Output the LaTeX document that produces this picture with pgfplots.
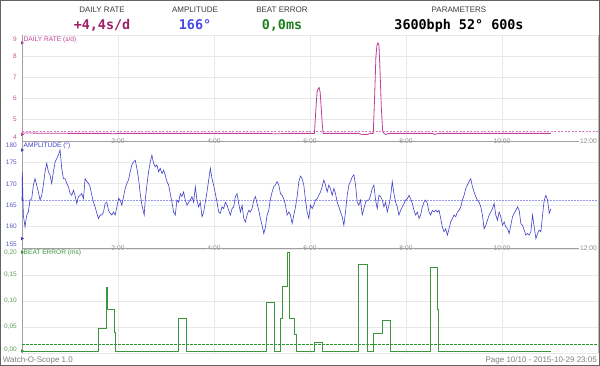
\documentclass[border=0pt]{standalone}
\usepackage{pgfplots}
\usepackage{pgfplotstable}
\pgfplotsset{compat=1.18}
\usepackage{fontspec}
\setmainfont{Liberation Sans}
\newfontfamily\valfont{DejaVu Sans Mono}
\definecolor{dr}{RGB}{192,64,152}
\definecolor{drhead}{RGB}{158,32,108}
\definecolor{drtick}{RGB}{200,80,160}
\definecolor{drmean}{RGB}{214,120,190}
\definecolor{am}{RGB}{64,64,204}
\definecolor{amhead}{RGB}{72,72,230}
\definecolor{amtick}{RGB}{90,90,200}
\definecolor{ammean}{RGB}{150,150,235}
\definecolor{be}{RGB}{60,150,60}
\definecolor{behead}{RGB}{30,130,30}
\definecolor{betick}{RGB}{90,160,90}
\definecolor{bemean}{RGB}{40,150,40}
\definecolor{gridc}{RGB}{232,232,232}
\definecolor{axc}{RGB}{160,160,160}
\definecolor{rightc}{RGB}{190,190,190}
\definecolor{timec}{RGB}{140,140,140}
\definecolor{framec}{RGB}{100,100,100}
\definecolor{headc}{RGB}{60,60,60}
\definecolor{footc}{RGB}{128,128,128}

\pgfplotstableread{
t v
0.000 166.0
0.007 172.8
0.028 162.7
0.063 159.9
0.098 162.7
0.132 163.4
0.167 166.2
0.202 166.5
0.237 169.7
0.271 171.2
0.306 169.7
0.341 168.1
0.376 166.2
0.411 167.3
0.445 169.7
0.480 172.8
0.515 174.8
0.550 172.8
0.585 172.0
0.619 170.1
0.654 172.8
0.689 175.1
0.724 175.9
0.758 176.7
0.793 177.9
0.828 173.6
0.863 171.2
0.898 171.2
0.932 170.1
0.967 169.3
1.002 167.7
1.037 167.3
1.072 168.5
1.106 167.3
1.141 165.4
1.176 167.0
1.211 167.3
1.245 167.7
1.280 166.5
1.315 171.2
1.350 170.5
1.385 170.1
1.419 169.3
1.454 167.3
1.489 165.7
1.524 164.6
1.559 163.1
1.593 161.9
1.628 162.7
1.663 162.7
1.698 163.4
1.732 165.4
1.767 165.7
1.802 163.8
1.837 163.1
1.872 162.7
1.906 163.4
1.941 162.7
1.976 164.6
2.011 166.6
2.045 166.2
2.080 165.0
2.115 167.0
2.150 168.9
2.185 170.1
2.219 170.9
2.254 172.8
2.289 174.4
2.324 175.1
2.359 175.5
2.393 173.6
2.428 171.2
2.463 167.7
2.498 165.0
2.532 163.4
2.546 162.7
2.567 166.2
2.602 169.7
2.637 172.8
2.672 175.1
2.706 176.7
2.741 174.8
2.776 174.0
2.811 174.4
2.845 172.8
2.880 173.6
2.915 172.4
2.950 173.2
2.985 172.0
3.019 170.5
3.054 169.7
3.089 167.7
3.124 165.7
3.158 163.4
3.193 162.7
3.228 166.2
3.263 165.7
3.298 167.7
3.332 167.0
3.367 168.1
3.402 166.2
3.437 165.0
3.472 165.7
3.506 166.2
3.541 167.0
3.576 165.7
3.611 169.3
3.645 166.2
3.680 164.6
3.715 165.7
3.750 162.3
3.785 163.4
3.819 165.7
3.854 168.1
3.889 170.9
3.924 173.6
3.958 171.2
3.993 169.7
4.028 167.7
4.063 165.7
4.098 163.4
4.132 163.1
4.167 164.6
4.202 164.2
4.237 165.7
4.271 165.0
4.306 163.8
4.341 162.7
4.376 164.2
4.411 164.6
4.445 167.0
4.480 167.7
4.515 165.4
4.550 163.4
4.585 165.0
4.619 161.9
4.654 161.1
4.689 162.7
4.724 163.8
4.758 163.4
4.793 164.2
4.828 166.2
4.863 167.0
4.898 165.4
4.932 163.8
4.967 161.9
5.002 160.3
5.037 158.4
5.072 159.9
5.106 162.7
5.141 163.8
5.176 166.5
5.211 168.1
5.245 169.3
5.280 169.7
5.315 170.5
5.350 169.7
5.385 167.7
5.419 167.3
5.454 166.5
5.489 165.0
5.524 162.7
5.558 163.4
5.593 162.7
5.628 160.7
5.663 162.7
5.698 164.6
5.732 167.0
5.767 170.5
5.802 171.8
5.836 171.2
5.871 169.7
5.906 166.2
5.940 163.4
5.975 161.9
6.010 165.0
6.045 164.2
6.080 165.0
6.114 166.2
6.149 166.5
6.184 167.3
6.219 168.1
6.253 169.3
6.288 170.9
6.323 169.7
6.358 168.1
6.392 169.7
6.427 168.9
6.462 167.3
6.497 168.9
6.531 167.7
6.566 165.7
6.601 164.6
6.636 163.4
6.671 162.3
6.705 160.3
6.740 163.4
6.775 167.3
6.810 169.7
6.844 170.5
6.879 171.6
6.914 172.1
6.949 169.7
6.984 165.7
7.018 165.0
7.053 166.2
7.088 162.7
7.123 164.2
7.158 165.7
7.192 166.2
7.227 166.2
7.262 167.3
7.297 168.9
7.331 169.7
7.366 166.2
7.401 164.2
7.436 167.3
7.471 167.0
7.505 166.2
7.540 164.6
7.575 165.7
7.610 163.4
7.645 165.0
7.679 167.0
7.714 170.5
7.749 167.7
7.784 165.7
7.818 164.6
7.853 162.7
7.888 163.8
7.923 164.6
7.958 165.4
7.992 166.2
8.027 166.5
8.062 167.3
8.097 166.5
8.132 165.4
8.166 163.8
8.201 162.7
8.236 163.4
8.271 161.9
8.305 162.7
8.340 164.6
8.375 165.7
8.410 166.2
8.445 165.4
8.479 163.4
8.514 162.7
8.549 163.8
8.584 163.4
8.619 163.8
8.653 163.4
8.688 163.8
8.723 161.9
8.758 159.9
8.792 158.8
8.827 159.5
8.862 158.0
8.897 159.5
8.931 161.1
8.966 161.9
9.001 162.7
9.036 162.3
9.071 163.4
9.105 163.8
9.140 164.6
9.175 166.2
9.210 167.3
9.245 168.9
9.279 169.7
9.314 170.5
9.349 171.2
9.384 169.3
9.418 168.1
9.453 167.0
9.488 166.2
9.523 165.7
9.558 164.6
9.592 162.7
9.627 159.5
9.662 160.3
9.697 161.5
9.732 162.7
9.766 163.4
9.801 164.2
9.836 165.4
9.871 162.7
9.905 161.5
9.940 163.4
9.975 162.3
10.010 160.3
10.045 161.1
10.079 159.9
10.114 159.5
10.149 158.4
10.184 160.3
10.219 162.3
10.253 163.1
10.288 163.8
10.323 164.6
10.358 163.8
10.393 160.7
10.427 160.3
10.462 159.2
10.497 158.0
10.532 158.4
10.566 158.0
10.601 158.8
10.636 162.7
10.671 159.9
10.706 157.2
10.740 158.4
10.775 159.2
10.810 158.8
10.845 162.7
10.879 166.2
10.914 167.3
10.949 166.2
10.984 163.1
11.018 164.2
}\amp

\pgfplotstableread{
t v
0.000 4.38
0.300 4.37
1.000 4.36
1.800 4.36
1.900 4.34
2.000 4.36
5.000 4.36
5.300 4.34
5.600 4.36
6.093 4.36
6.121 5.46
6.148 6.31
6.169 6.47
6.190 6.52
6.211 6.31
6.232 5.61
6.260 4.67
6.274 4.36
7.000 4.36
7.080 4.31
7.200 4.31
7.250 4.36
7.318 4.36
7.346 6.08
7.373 7.96
7.394 8.51
7.415 8.63
7.436 8.51
7.456 7.49
7.485 5.61
7.513 4.48
7.540 4.36
7.580 4.31
7.650 4.36
8.550 4.36
8.600 4.31
8.680 4.36
11.018 4.36
}\rate

\pgfplotstableread{
t v
0.000 0.004
1.592 0.048
1.763 0.127
1.774 0.083
1.930 0.040
1.945 0.004
3.249 0.067
3.416 0.004
5.092 0.097
5.259 0.004
5.384 0.067
5.419 0.129
5.536 0.194
5.578 0.067
5.682 0.036
5.707 0.004
6.093 0.021
6.254 0.004
7.018 0.170
7.193 0.004
7.331 0.0385
7.506 0.062
7.665 0.004
8.500 0.165
8.654 0.083
8.675 0.004
11.018 0.004
}\beat

\tikzset{
  timelab/.style={fill=white, inner sep=1pt, text=timec, font=\fontsize{6.7}{7}\selectfont},
  extlab/.style={anchor=east, inner sep=0pt, xshift=-5pt, font=\fontsize{6.5}{7}\selectfont},
  ptitle/.style={anchor=west, inner sep=0pt, xshift=1.5pt, font=\fontsize{6.6}{7}\selectfont},
}
\pgfplotsset{
  panel/.style={
    scale only axis, width=576pt, xmin=0, xmax=12,
    axis line style={draw=none}, tick style={draw=none}, major tick length=0pt,
    xtick={2,4,6,8,10}, grid=major, grid style={draw=gridc, line width=0.8pt},
    clip=false,
    yticklabel style={anchor=east, inner sep=0pt, xshift=-5pt, font=\fontsize{6.5}{7}\selectfont},
  },
}

\begin{document}
\begin{tikzpicture}
\useasboundingbox (0pt,0pt) rectangle (600pt,366pt);
\fill[white] (0pt,0pt) rectangle (600pt,366pt);

% header
\node[anchor=base, font=\fontsize{8}{9}\selectfont, text=headc] at (102pt,353.4pt) {DAILY RATE};
\node[anchor=base, font=\fontsize{8}{9}\selectfont, text=headc] at (195pt,353.4pt) {AMPLITUDE};
\node[anchor=base, font=\fontsize{8}{9}\selectfont, text=headc] at (282pt,353.4pt) {BEAT ERROR};
\node[anchor=base, font=\fontsize{8}{9}\selectfont, text=headc] at (459pt,353.4pt) {PARAMETERS};
\node[anchor=base, font=\valfont\bfseries\fontsize{13.4}{14}\selectfont, text=drhead] at (102pt,336pt) {+4,4s/d};
\node[anchor=base, font=\valfont\bfseries\fontsize{13.4}{14}\selectfont, text=amhead] at (195pt,336pt) {166°};
\node[anchor=base, font=\valfont\bfseries\fontsize{13.4}{14}\selectfont, text=behead] at (282pt,336pt) {0,0ms};
\node[anchor=base, font=\valfont\bfseries\fontsize{13.4}{14}\selectfont, text=black] at (459pt,336pt) {3600bph 52° 600s};

% panel 1: daily rate
\begin{axis}[panel, at={(22pt,225pt)}, anchor=south west, height=106pt,
  ymin=4, ymax=9, ytick={4,5,6,7,8,9}, yticklabels={,5,6,7,8,},
  yticklabel style={text=drtick}, xticklabels={}]
\draw[axc, line width=0.8pt] (rel axis cs:0,0) -- (rel axis cs:0,1);
\draw[rightc, line width=0.8pt] (rel axis cs:1,0) -- (rel axis cs:1,1);
\addplot[drmean, line width=0.9pt, dash pattern=on 2pt off 1.5pt] coordinates {(0,4.44) (12,4.44)};
\addplot[dr, line width=0.8pt] table {\rate};
\addplot[only marks, mark=triangle*, mark size=1.6pt, mark options={rotate=-90, fill=dr, draw=dr}] coordinates {(0,8.63) (0,4.31)};
\node[extlab, text=drtick, yshift=-4.5pt] at (rel axis cs:0,1) {9};
\node[extlab, text=drtick, yshift=3.8pt] at (rel axis cs:0,0) {4};
\node[ptitle, text=dr, yshift=-4.6pt] at (rel axis cs:0,1) {DAILY RATE (s/d)};
\end{axis}

% panel 2: amplitude
\begin{axis}[panel, at={(22pt,118pt)}, anchor=south west, height=107pt,
  ymin=155, ymax=180, ytick={155,160,165,170,175,180}, yticklabels={,160,165,170,175,},
  yticklabel style={text=amtick},
  xticklabel pos=upper, xticklabels={2:00,4:00,6:00,8:00,10:00},
  xticklabel style={anchor=center, timelab}]
\draw[axc, line width=0.8pt] (rel axis cs:0,0) -- (rel axis cs:0,1);
\draw[rightc, line width=0.8pt] (rel axis cs:1,0) -- (rel axis cs:1,1);
\draw[axc, line width=0.9pt] (rel axis cs:0,1) -- (rel axis cs:1,1);
\addplot[ammean, line width=1pt, dash pattern=on 1.5pt off 1.5pt] coordinates {(0,166) (12,166)};
\addplot[am, line width=0.6pt] table {\amp};
\addplot[only marks, mark=triangle*, mark size=1.6pt, mark options={rotate=-90, fill=am, draw=am}] coordinates {(0,177.9) (0,157.2)};
\node[extlab, text=amtick, yshift=-4.7pt] at (rel axis cs:0,1) {180};
\node[extlab, text=amtick, yshift=4pt] at (rel axis cs:0,0) {155};
\node[ptitle, text=am, yshift=-4.7pt] at (rel axis cs:0,1) {AMPLITUDE (°)};
\node[timelab, anchor=east] at (rel axis cs:1,1) {12:00};
\end{axis}

% panel 3: beat error
\begin{axis}[panel, at={(22pt,13pt)}, anchor=south west, height=105pt,
  ymin=0, ymax=0.202, ytick={0,0.05,0.1,0.15,0.2}, yticklabels={,{0,05},{0,10},{0,15},},
  yticklabel style={text=betick},
  xticklabel pos=upper, xticklabels={2:00,4:00,6:00,8:00,10:00},
  xticklabel style={anchor=center, timelab}]
\draw[axc, line width=0.8pt] (rel axis cs:0,0) -- (rel axis cs:0,1);
\draw[rightc, line width=0.8pt] (rel axis cs:1,0) -- (rel axis cs:1,1);
\draw[axc, line width=0.9pt] (rel axis cs:0,1) -- (rel axis cs:1,1);
\addplot[bemean, line width=0.8pt, dash pattern=on 2.5pt off 1.5pt] coordinates {(0,0.0167) (12,0.0167)};
\addplot[be, line width=0.8pt, const plot] table {\beat};
\addplot[only marks, mark=triangle*, mark size=1.6pt, mark options={rotate=-90, fill=be, draw=be}] coordinates {(0,0.194) (0,0.004)};
\node[extlab, text=betick, yshift=-3.8pt] at (axis cs:0,0.2) {0,20};
\node[extlab, text=betick, yshift=3pt] at (rel axis cs:0,0) {0,00};
\node[ptitle, text=be, yshift=-3.8pt] at (axis cs:0,0.2) {BEAT ERROR (ms)};
\node[timelab, anchor=east] at (rel axis cs:1,1) {12:00};
\end{axis}

% footer
\node[anchor=base west, inner sep=0pt, font=\fontsize{8}{9}\selectfont, text=footc] at (2.7pt,3.4pt) {Watch-O-Scope 1.0};
\node[anchor=base east, inner sep=0pt, font=\fontsize{8}{9}\selectfont, text=footc] at (597pt,3.4pt) {Page 10/10 - 2015-10-29 23:05};

\draw[framec, line width=1pt] (0.5pt,0.5pt) rectangle (599.5pt,365.5pt);
\end{tikzpicture}
\end{document}
